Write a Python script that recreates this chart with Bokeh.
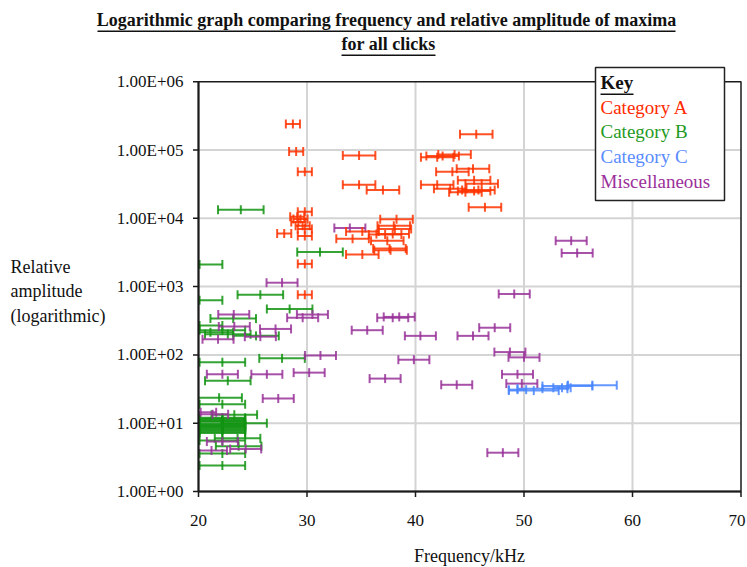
import math
from bokeh.plotting import figure
from bokeh.models import Label, BoxAnnotation
from bokeh.core.properties import value
from bokeh.embed import file_html
from bokeh.resources import INLINE

# ---------------- data ----------------
series_names = ["Category A", "Category B", "Category C", "Miscellaneous"]

# Category A
a_freq = [28.7, 29.0, 29.8, 29.8, 29.1, 29.4, 29.2, 29.6, 29.8, 27.9, 29.8, 29.8, 29.8,
          45.6, 34.8, 42.0, 43.6, 42.5, 43.4, 45.3, 34.8, 37.0, 42.0, 43.2, 45.4, 46.1,
          45.8, 45.4, 44.6, 46.4, 38.25, 38.0, 38.1, 35.1, 34.2, 37.2, 37.9, 37.4, 37.6,
          37.7, 35.1]
a_amp = [2.4e5, 9.5e4, 4.8e4, 1.25e4, 1.05e4, 9.8e3, 8.8e3, 7.8e3, 7.0e3, 6.0e3, 5.5e3,
         2.15e3, 7.6e2, 1.7e5, 8.3e4, 7.8e4, 8.6e4, 8.2e4, 4.8e4, 5.3e4, 3.1e4, 2.6e4,
         3.1e4, 2.7e4, 3.6e4, 3.2e4, 2.6e4, 2.5e4, 2.4e4, 1.45e4, 9.7e3, 7.8e3, 7.0e3,
         6.4e3, 5.0e3, 5.8e3, 5.9e3, 4.7e3, 3.6e3, 3.4e3, 2.95e3]
a_err = [0.65] * 13 + [1.5] * 28

# Category B
b_freq = [23.9, 31.2, 20.1, 20.1, 25.7, 28.4, 23.2, 20.1, 22.2, 21.1, 22.7, 25.3, 22.2,
          27.7, 22.7, 21.9, 22.2, 23.3, 22.2, 22.2, 22.2, 24.2, 22.2, 22.2, 22.2, 22.2,
          22.2, 23.6, 22.2, 23.7, 22.2, 22.2,
          22.2, 22.2, 22.2, 22.2, 22.2, 22.2, 22.2]
b_amp = [1.33e4, 3.2e3, 2.1e3, 630, 760, 470, 340, 270, 230, 215, 200, 190, 78, 89, 42,
         23.5, 19, 13.3, 12, 11.2, 10.5, 10, 9.5, 9, 8.4, 7.8, 7.2, 6.0, 5.6, 4.6, 3.6, 2.4,
         11.6, 10.8, 9.8, 9.2, 8.7, 8.1, 7.5]
b_err = [2.1] * 39

# Category C
c_freq = [50.9, 51.7, 54.0, 56.3, 49.4, 53.5]
c_amp = [30, 32, 35, 36, 31, 33]
c_err = [2.3, 2.3, 2.3, 2.25, 0.8, 0.8]

# Miscellaneous
m_freq = [33.95, 27.7, 29.6, 30.5, 23.25, 23.3, 27.1, 21.8, 25.7, 35.55, 31.24, 22.2,
          26.3, 30.2, 37.2, 27.35, 20.2, 21.3, 22.2, 21.2, 24.35, 54.35, 54.9, 49.1,
          37.9, 38.5, 47.3, 40.45, 45.3, 48.7, 50.0, 39.85, 49.4, 49.8, 43.8, 48.05]
m_amp = [7.2e3, 1.14e3, 350, 390, 390, 260, 240, 170, 185, 230, 98, 52, 52, 55, 45, 23,
         14.5, 13.5, 5.4, 4.0, 4.2, 4.7e3, 3.1e3, 780, 350, 360, 250, 190, 190, 110, 92,
         85, 52, 38, 36.5, 3.7]
m_err = [1.43] * 36

x_ticks = [20, 30, 40, 50, 60, 70]
y_ticks = [1, 10, 100, 1e3, 1e4, 1e5, 1e6]
x_tick_labels = [str(t) for t in x_ticks]
y_tick_labels = ["1.00E+%02d" % round(math.log10(t)) for t in y_ticks]

title_lines = ["Logarithmic graph comparing frequency and relative amplitude of maxima",
               "for all clicks"]
y_label_lines = ["Relative", "amplitude", "(logarithmic)"]
x_label = "Frequency/kHz"

colors = ["#ff3300", "#129412", "#4a86ff", "#993399"]
text_colors = ["#ff2a00", "#1f9a1f", "#5a8cff", "#9b2f9b"]

# ---------------- layout constants (page pixels) ----------------
W, H = 747, 567
FL, FB = 198.0, 491.0          # plot-area left / bottom
PX_PER_KHZ = 10.85
PX_PER_DEC = 68.3
XMIN, XMAX = x_ticks[0], x_ticks[-1]
YMIN, YMAX = y_ticks[0], y_ticks[-1]

x_start = XMIN - FL / PX_PER_KHZ
x_end = XMIN + (W - FL) / PX_PER_KHZ
y_start = 10 ** (-(H - FB) / PX_PER_DEC)
y_end = 10 ** (FB / PX_PER_DEC)

p = figure(width=W, height=H, x_range=(x_start, x_end), y_range=(y_start, y_end),
           y_axis_type="log", x_axis_location=None, y_axis_location=None,
           output_backend="svg", toolbar_location=None, min_border=0)
p.outline_line_color = None
p.grid.visible = False
p.background_fill_color = "white"
p.border_fill_color = "white"

AX = "#1a1a1a"
GRID = "#d4d4d4"

# grid lines
gx = [t for t in x_ticks if XMIN < t < XMAX]
p.segment(x0=gx, y0=[YMIN] * len(gx), x1=gx, y1=[YMAX] * len(gx), line_color=GRID, line_width=2)
gy = [t for t in y_ticks if YMIN < t < YMAX]
p.segment(x0=[XMIN] * len(gy), y0=gy, x1=[XMAX] * len(gy), y1=gy, line_color=GRID, line_width=2)

# ---------------- error bars ----------------
all_series = [(a_freq, a_amp, a_err), (b_freq, b_amp, b_err),
              (c_freq, c_amp, c_err), (m_freq, m_amp, m_err)]
draw_order = [1, 3, 0, 2]
for i in draw_order:
    f, a, e = all_series[i]
    col = colors[i]
    lo = [max(fi - ei, XMIN) for fi, ei in zip(f, e)]
    hi = [fi + ei for fi, ei in zip(f, e)]
    p.segment(x0=lo, y0=a, x1=hi, y1=a, line_color=col, line_width=2, line_alpha=0.85)
    cx, cy = [], []
    for fi, ei, ai in zip(f, e, a):
        for xv in (fi - ei, fi, fi + ei):
            if xv >= XMIN:
                cx.append(xv)
                cy.append(ai)
    p.scatter(x=cx, y=cy, marker="dash", angle=math.pi / 2, size=9,
              line_color=col, line_width=2, line_alpha=0.85)

# ---------------- plot-area border, axes and ticks ----------------
p.quad(left=[XMIN], right=[XMAX], bottom=[YMIN], top=[YMAX], fill_color=None,
       line_color=AX, line_width=1.5)
p.segment(x0=[XMIN], y0=[YMIN], x1=[XMIN], y1=[YMAX], line_color=AX, line_width=2)
p.segment(x0=[XMIN], y0=[YMIN], x1=[XMAX], y1=[YMIN], line_color=AX, line_width=2)
TICK = 5.5
tick_y = 10 ** (-TICK / PX_PER_DEC) * YMIN
p.segment(x0=x_ticks, y0=[YMIN] * len(x_ticks), x1=x_ticks, y1=[tick_y] * len(x_ticks),
          line_color=AX, line_width=1.5)
tick_x = XMIN - TICK / PX_PER_KHZ
p.segment(x0=[XMIN] * len(y_ticks), y0=y_ticks, x1=[tick_x] * len(y_ticks), y1=y_ticks,
          line_color=AX, line_width=1.5)

# keep the last x label inside the page
x_lab_shift = [0] * (len(x_ticks) - 1) + [-4]
p.text(x=x_ticks, y=[YMIN] * len(x_ticks), text=x_tick_labels, y_offset=29,
       x_offset=x_lab_shift,
       text_align="center", text_baseline="middle", text_font=value("Liberation Serif"),
       text_font_size="17px", text_color="#111111")
p.text(x=[XMIN] * len(y_ticks), y=y_ticks, text=y_tick_labels, x_offset=-15,
       text_align="right", text_baseline="middle", text_font=value("Liberation Serif"),
       text_font_size="17px", text_color="#111111")

# ---------------- texts (page pixel positions, y measured from the top) ----------------
def add_label(px, py, text, size="17px", color="#111111", style="normal", align="left"):
    lab = Label(x=px, y=H - py, x_units="screen", y_units="screen", text=text,
                text_font="Liberation Serif", text_font_size=size, text_color=color,
                text_font_style=style, text_align=align, text_baseline="middle")
    p.add_layout(lab)

def add_box(l, r, t, b, fill="white", line="#222222", lw=1.5):
    box = BoxAnnotation(left=l, right=r, top=H - t, bottom=H - b,
                        left_units="screen", right_units="screen", top_units="screen",
                        bottom_units="screen", fill_color=fill, fill_alpha=1.0,
                        line_color=line, line_width=lw, line_alpha=1.0)
    p.add_layout(box)

add_label(386, 19, title_lines[0], size="18px", style="bold", align="center")
add_label(388, 43, title_lines[1], size="18px", style="bold", align="center")
add_box(97, 675, 30, 31.5, fill="#111111", line=None)
add_box(341, 435, 54, 55.5, fill="#111111", line=None)

for k, t in enumerate(y_label_lines):
    add_label(10, 266 + 24.5 * k, t, size="18px")

add_label(469, 555, x_label, size="18px", align="center")

add_box(595, 724, 67, 200)
add_label(600, 82, "Key", size="19px", style="bold")
add_box(600, 633, 93, 94.5, fill="#111111", line=None)
for k, name in enumerate(series_names):
    add_label(600, 106.5 + 24.7 * k, name, size="19px", color=text_colors[k])

open("out.html", "w").write(file_html(p, INLINE))
